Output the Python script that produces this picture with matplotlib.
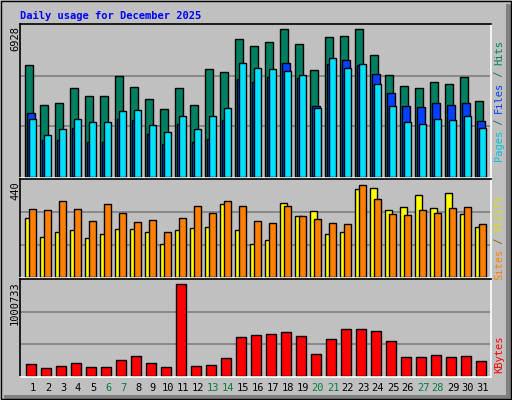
import matplotlib
matplotlib.use("Agg")
import matplotlib.pyplot as plt
from matplotlib.patches import Rectangle
import numpy as np

days = list(range(1, 32))
weekends = [6, 7, 13, 14, 20, 21, 27, 28]
hits = [5130, 3260, 3390, 4080, 3710, 3670, 4620, 4120, 3570, 3110, 4080, 3260, 4940, 4800, 6310, 5990,
        6170, 6770, 6080, 4890, 6380, 6430, 6770, 5580, 4660, 4160, 4070, 4350, 4260, 4580, 3450]
files = [2930, 1680, 1680, 2240, 1590, 1590, 2640, 2600, 1950, 1490, 2410, 1590, 1720, 2600, 4480, 4350,
         4560, 5200, 4530, 3250, 5150, 5330, 5100, 4690, 3810, 3250, 3200, 3390, 3300, 3390, 2530]
pages = [2660, 1890, 2170, 2660, 2500, 2500, 3020, 3060, 2350, 2040, 2780, 2170, 2780, 3150, 5180, 4960,
         4930, 4840, 4650, 3150, 5430, 4960, 5150, 4220, 3250, 2520, 2420, 2660, 2600, 2790, 2230]
visits = [266, 183, 206, 211, 178, 197, 220, 220, 206, 148, 211, 224, 229, 331, 211, 148,
          166, 335, 276, 299, 195, 204, 402, 406, 304, 318, 373, 313, 382, 285, 229]
sites = [307, 303, 344, 307, 252, 331, 289, 248, 257, 203, 266, 324, 289, 344, 324, 252,
         243, 324, 276, 262, 243, 239, 419, 355, 285, 281, 303, 289, 313, 318, 239]
kbytes = [119000, 77000, 98000, 130000, 88000, 88000, 161000, 204000, 130000, 88000, 962000, 98000, 109000, 183000, 404000, 425000,
          435000, 456000, 414000, 225000, 383000, 488000, 488000, 467000, 362000, 193000, 193000, 214000, 193000, 204000, 151000]
max_hits, max_sites, max_kb = 6928, 440, 1000733

W, H = 512, 400
fig = plt.figure(figsize=(W/100, H/100), dpi=100)
fig.patch.set_facecolor("#C0C0C0")
bg = fig.add_axes([0, 0, 1, 1]); bg.set_xlim(0, W); bg.set_ylim(H, 0); bg.axis("off")
bg.add_patch(Rectangle((506, 4), 5, 395, color="#808080", lw=0))
bg.add_patch(Rectangle((4, 395), 507, 5, color="#808080", lw=0))
bg.add_patch(Rectangle((0.5, 0.5), 510, 398, fill=False, ec="black", lw=1))

GRAY = "#C0C0C0"
def panel(y0, y1):
    ax = fig.add_axes([20/W, 1 - y1/H, 471/W, (y1 - y0)/H])
    ax.set_facecolor(GRAY)
    ax.set_xlim(0.133, 31.533)
    ax.set_xticks([]); ax.set_yticks([])
    for s in ax.spines.values():
        s.set_color("black"); s.set_linewidth(1.2)
    ax.spines["bottom"].set_color("white"); ax.spines["right"].set_color("white")
    return ax

def setlim(ax, mx, base_px, top_px, y0, y1):
    per = mx / (base_px - top_px)
    ax.set_ylim(-(y1 - base_px) * per, mx + (top_px - y0) * per)
    for k in (1, 2):
        ax.axhline(mx * k / 3, color="#808080", lw=1.2, zorder=0)

d = np.array(days)
bk = dict(edgecolor="black", linewidth=1, align="edge")
ax1 = panel(24, 178); setlim(ax1, max_hits, 176.7, 25.3, 24, 178)
ax1.bar(d - 0.53, hits, 0.5, color="#008060", **bk)
ax1.bar(d - 0.40, files, 0.5, color="#0040FF", **bk)
ax1.bar(d - 0.27, pages, 0.5, color="#00E0FF", **bk)

ax2 = panel(179, 278); setlim(ax2, max_sites, 276.7, 180.3, 179, 278)
ax2.bar(d - 0.53, visits, 0.45, color="#FFFF00", **bk)
ax2.bar(d - 0.27, sites, 0.5, color="#FF8000", **bk)

ax3 = panel(279, 377); setlim(ax3, max_kb, 375.7, 280.7, 279, 377)
ax3.bar(d - 0.47, kbytes, 0.67, color="#FF0000", **bk)

mono = dict(family="DejaVu Sans Mono", fontsize=7.5)
bg.text(20, 16, "Daily usage for December 2025", color="#0000FF", fontweight="bold", va="center", **mono)
for y, lab in [(26, "6928"), (181, "440"), (281, "1000733")]:
    bg.text(15, y, lab, rotation=90, ha="center", va="top", color="black", **mono)

for i in days:
    bg.text(33 + 15 * (i - 1), 388, str(i), ha="center", va="center",
            color="#008040" if i in weekends else "black", **mono)

def vlabel(yc, parts):
    # parts drawn bottom to top
    total = sum(len(p) for p, _ in parts)
    ch = 6.0
    y = yc + total * ch / 2
    for txt, col in parts:
        bg.text(499, y, txt, rotation=90, ha="center", va="bottom", color=col, **mono)
        y -= len(txt) * ch
vlabel(101, [("Pages", "#00C0E0"), (" / ", "#206060"), ("Files", "#0040FF"), (" / ", "#206060"), ("Hits", "#008060")])
vlabel(238, [("Sites", "#FF8000"), (" / ", "#806000"), ("Visits", "#E0E000")])
vlabel(355, [("KBytes", "#FF0000")])

fig.savefig("out.png", dpi=100, facecolor=fig.get_facecolor())
